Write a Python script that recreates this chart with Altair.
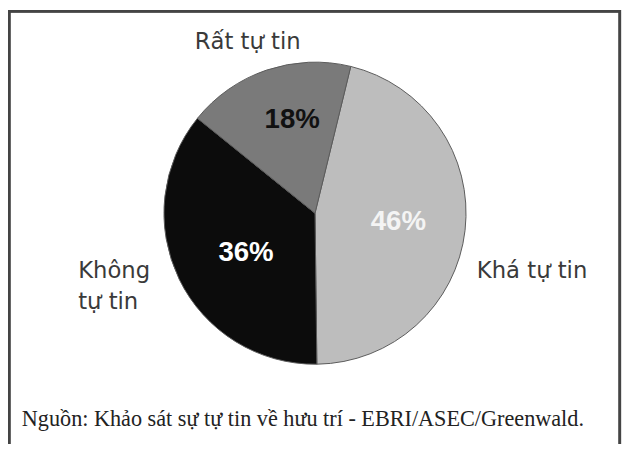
import math
import altair as alt
import pandas as pd

# data (clockwise from the top-right boundary)
categories = ["Khá tự tin", "Không tự tin", "Rất tự tin"]
label_text = ["Khá tự tin", "Không\ntự tin", "Rất tự tin"]
values = [46, 36, 18]
pct_text = ["46%", "36%", "18%"]
slice_colors = ["#bdbdbd", "#0c0c0c", "#7a7a7a"]
pct_colors = ["#f4f4f4", "#ffffff", "#111111"]
source = "Nguồn: Khảo sát sự tự tin về hưu trí - EBRI/ASEC/Greenwald."

df = pd.DataFrame({
    "cat": categories,
    "label": label_text,
    "value": values,
    "pct": pct_text,
    "order": list(range(len(categories))),
})

start = math.radians(13.7)
theta_scale = alt.Scale(domain=[0, 100], range=[start, start + 2 * math.pi])

base = alt.Chart(df).transform_window(
    cum="sum(value)", sort=[alt.SortField("order")]
).transform_calculate(
    start="datum.cum - datum.value", mid="datum.cum - datum.value / 2"
)

arcs = base.mark_arc(outerRadius=153, stroke="#5a5a5a", strokeWidth=1).encode(
    theta=alt.Theta("start:Q", scale=theta_scale, stack=False),
    theta2="cum:Q",
    color=alt.Color("cat:N", scale=alt.Scale(domain=categories, range=slice_colors), legend=None),
)

def pct_label(cat, r, dx, dy):
    col = pct_colors[categories.index(cat)]
    return base.transform_filter(alt.datum.cat == cat).mark_text(
        font="Liberation Sans", fontWeight="bold", fontSize=28, color=col,
        radius=r, dx=dx, dy=dy, baseline="middle", align="center",
    ).encode(
        theta=alt.Theta("mid:Q", scale=theta_scale, stack=False),
        text="pct:N",
    )

def outer_label(cat, r, dx, dy, align):
    return base.transform_filter(alt.datum.cat == cat).mark_text(
        font="DejaVu Sans", fontSize=23, color="#3a3a3a",
        radius=r, dx=dx, dy=dy, baseline="alphabetic", align=align,
        lineBreak="\n", lineHeight=31,
    ).encode(
        theta=alt.Theta("mid:Q", scale=theta_scale, stack=False),
        text="label:N",
    )

frame = alt.Chart(df).mark_rect(fill=None, stroke="#444444", strokeWidth=2.5).encode(
    x=alt.value(1.2), x2=alt.value(619.8), y=alt.value(0.5), y2=alt.value(500)
)

src = alt.Chart(df).transform_filter(alt.datum.order == 0).mark_text(
    font="Liberation Serif", fontSize=22.5, color="#222222", align="left", baseline="alphabetic"
).encode(x=alt.value(14), y=alt.value(421), text=alt.value(source))

chart = alt.layer(
    frame,
    arcs,
    pct_label("Rất tự tin", 100, 9, 0),
    pct_label("Khá tự tin", 83, 2, 0),
    pct_label("Không tự tin", 81, 3, 5),
    outer_label("Rất tự tin", 175, -12, -1, "center"),
    outer_label("Khá tự tin", 160, 5, 48, "left"),
    outer_label("Không tự tin", 160, -96, -4, "left"),
    src,
).properties(
    width=622, height=410,
    autosize=alt.AutoSizeParams(type="none"),
    padding={"left": 0, "top": 0, "right": 0, "bottom": 26},
).configure_view(stroke=None)

chart.save("out.html", embed_options={"renderer": "svg", "actions": False})
